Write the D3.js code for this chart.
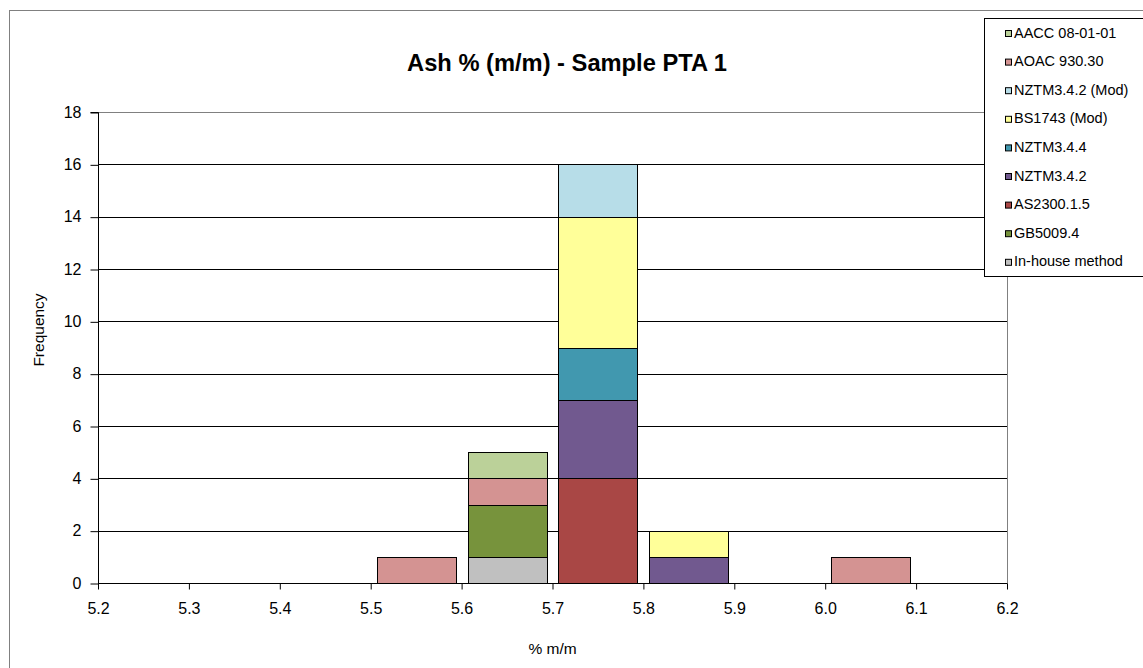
<!DOCTYPE html>
<html>
<head>
<meta charset="utf-8">
<script src="https://cdn.jsdelivr.net/npm/d3@7"></script>
<style>
  html, body { margin: 0; padding: 0; background: #fff; }
  svg { display: block; font-family: "Liberation Sans", Arial, sans-serif; }
</style>
</head>
<body>
<svg id="chart" width="1143" height="668"></svg>
<script>
// Histogram bins (lower edge of each 0.1 % m/m bin)
const binStarts = [5.2, 5.3, 5.4, 5.5, 5.6, 5.7, 5.8, 5.9, 6.0, 6.1];
const xTicks = [5.2, 5.3, 5.4, 5.5, 5.6, 5.7, 5.8, 5.9, 6.0, 6.1, 6.2];
const yTicks = [0, 2, 4, 6, 8, 10, 12, 14, 16, 18];

// Methods, in stacking order (bottom to top)
const methods = ["In-house method", "GB5009.4", "AS2300.1.5", "NZTM3.4.2", "NZTM3.4.4",
                 "BS1743 (Mod)", "NZTM3.4.2 (Mod)", "AOAC 930.30", "AACC 08-01-01"];
const methodColors = ["#C0C0C0", "#77933C", "#A94745", "#71598F", "#4198AF",
                      "#FFFF99", "#B7DDE8", "#D49392", "#BBD199"];

// Frequency of results per bin for each method
const inHouse   = [0, 0, 0, 0, 1, 0, 0, 0, 0, 0];
const gb5009    = [0, 0, 0, 0, 2, 0, 0, 0, 0, 0];
const as2300    = [0, 0, 0, 0, 0, 4, 0, 0, 0, 0];
const nztm342   = [0, 0, 0, 0, 0, 3, 1, 0, 0, 0];
const nztm344   = [0, 0, 0, 0, 0, 2, 0, 0, 0, 0];
const bs1743    = [0, 0, 0, 0, 0, 5, 1, 0, 0, 0];
const nztm342m  = [0, 0, 0, 0, 0, 2, 0, 0, 0, 0];
const aoac      = [0, 0, 0, 1, 1, 0, 0, 0, 1, 0];
const aacc      = [0, 0, 0, 0, 1, 0, 0, 0, 0, 0];
const seriesValues = [inHouse, gb5009, as2300, nztm342, nztm344, bs1743, nztm342m, aoac, aacc];

const svg = d3.select("#chart");
const plot = { left: 98, right: 1007, top: 112, bottom: 583 };

const x = d3.scaleLinear().domain([5.2, 6.2]).range([plot.left, plot.right]);
const y = d3.scaleLinear().domain([0, 18]).range([plot.bottom, plot.top]);

// Outer chart frame
svg.append("rect")
  .attr("x", 9.5).attr("y", 10.5).attr("width", 1200).attr("height", 700)
  .attr("fill", "#fff").attr("stroke", "#808080").attr("stroke-width", 1);

// Title
svg.append("text")
  .attr("x", 567).attr("y", 71)
  .attr("text-anchor", "middle")
  .attr("font-size", 23.7).attr("font-weight", "bold")
  .text("Ash % (m/m) - Sample PTA 1");

// Plot frame (top and right edges)
svg.append("path")
  .attr("d", `M${plot.left},${plot.top + 0.5}H${plot.right + 0.5}V${plot.bottom}`)
  .attr("fill", "none").attr("stroke", "#808080");

// Horizontal gridlines
svg.append("g")
  .selectAll("line")
  .data(yTicks.filter(t => t > 0 && t < 18))
  .join("line")
  .attr("x1", plot.left).attr("x2", plot.right)
  .attr("y1", d => Math.round(y(d)) + 0.5).attr("y2", d => Math.round(y(d)) + 0.5)
  .attr("stroke", "#000").attr("stroke-width", 1);

// Stacked bars
const table = binStarts.map((b, i) => {
  const row = { bin: b };
  methods.forEach((m, j) => { row[m] = seriesValues[j][i]; });
  return row;
});
const stacked = d3.stack().keys(methods)(table);
const binW = x(5.3) - x(5.2);
const gap = binW * 0.065;

svg.append("g")
  .selectAll("g")
  .data(stacked)
  .join("g")
  .attr("fill", (d, i) => methodColors[i])
  .selectAll("rect")
  .data(d => d.filter(s => s[1] - s[0] > 0))
  .join("rect")
  .attr("x", d => Math.round(x(d.data.bin) + gap) + 0.5)
  .attr("width", Math.round(binW - 2 * gap))
  .attr("y", d => Math.round(y(d[1])) + 0.5)
  .attr("height", d => Math.round(y(d[0])) - Math.round(y(d[1])))
  .attr("stroke", "#000").attr("stroke-width", 1);

// Y axis
const yAxis = svg.append("g")
  .attr("transform", `translate(${plot.left + 0.5},0)`)
  .call(d3.axisLeft(y).tickValues(yTicks).tickSize(8).tickPadding(9).tickFormat(d3.format("d")));
yAxis.selectAll("text").attr("font-size", 16).attr("fill", "#000").attr("font-family", null);
yAxis.selectAll("line, path").attr("stroke", "#000");
yAxis.select(".domain").attr("d", `M-8,${plot.top + 0.5}H0V${plot.bottom + 0.5}`);
yAxis.selectAll(".tick line").attr("transform", "translate(0,0.5)");

// X axis
const xAxis = svg.append("g")
  .attr("transform", `translate(0,${plot.bottom + 0.5})`)
  .call(d3.axisBottom(x).tickValues(xTicks).tickSize(6).tickPadding(13).tickFormat(d3.format(".1f")));
xAxis.selectAll("text").attr("font-size", 16).attr("fill", "#000").attr("font-family", null);
xAxis.selectAll("line, path").attr("stroke", "#000");
xAxis.select(".domain").attr("d", `M${plot.left},0H${plot.right + 0.5}`);

// Axis titles
svg.append("text")
  .attr("x", (plot.left + plot.right) / 2).attr("y", 654)
  .attr("text-anchor", "middle").attr("font-size", 15.5)
  .text("% m/m");
svg.append("text")
  .attr("transform", "translate(44,330) rotate(-90)")
  .attr("text-anchor", "middle").attr("font-size", 15.5)
  .text("Frequency");

// Legend (top entry is the top of the stack)
const legend = svg.append("g");
legend.append("rect")
  .attr("x", 984.5).attr("y", 18.5).attr("width", 200).attr("height", 258)
  .attr("fill", "#fff").attr("stroke", "#000");
const legendItems = methods.map((m, i) => ({ name: m, color: methodColors[i] })).reverse();
const li = legend.selectAll("g.item")
  .data(legendItems)
  .join("g")
  .attr("class", "item")
  .attr("transform", (d, i) => `translate(0,${i * 28.6})`);
li.append("rect")
  .attr("x", 1005.5).attr("y", 30.5).attr("width", 6).attr("height", 6)
  .attr("fill", d => d.color).attr("stroke", "#000").attr("stroke-width", 1);
li.append("text")
  .attr("x", 1014).attr("y", 37.5)
  .attr("font-size", 14.5)
  .text(d => d.name);
</script>
</body>
</html>
